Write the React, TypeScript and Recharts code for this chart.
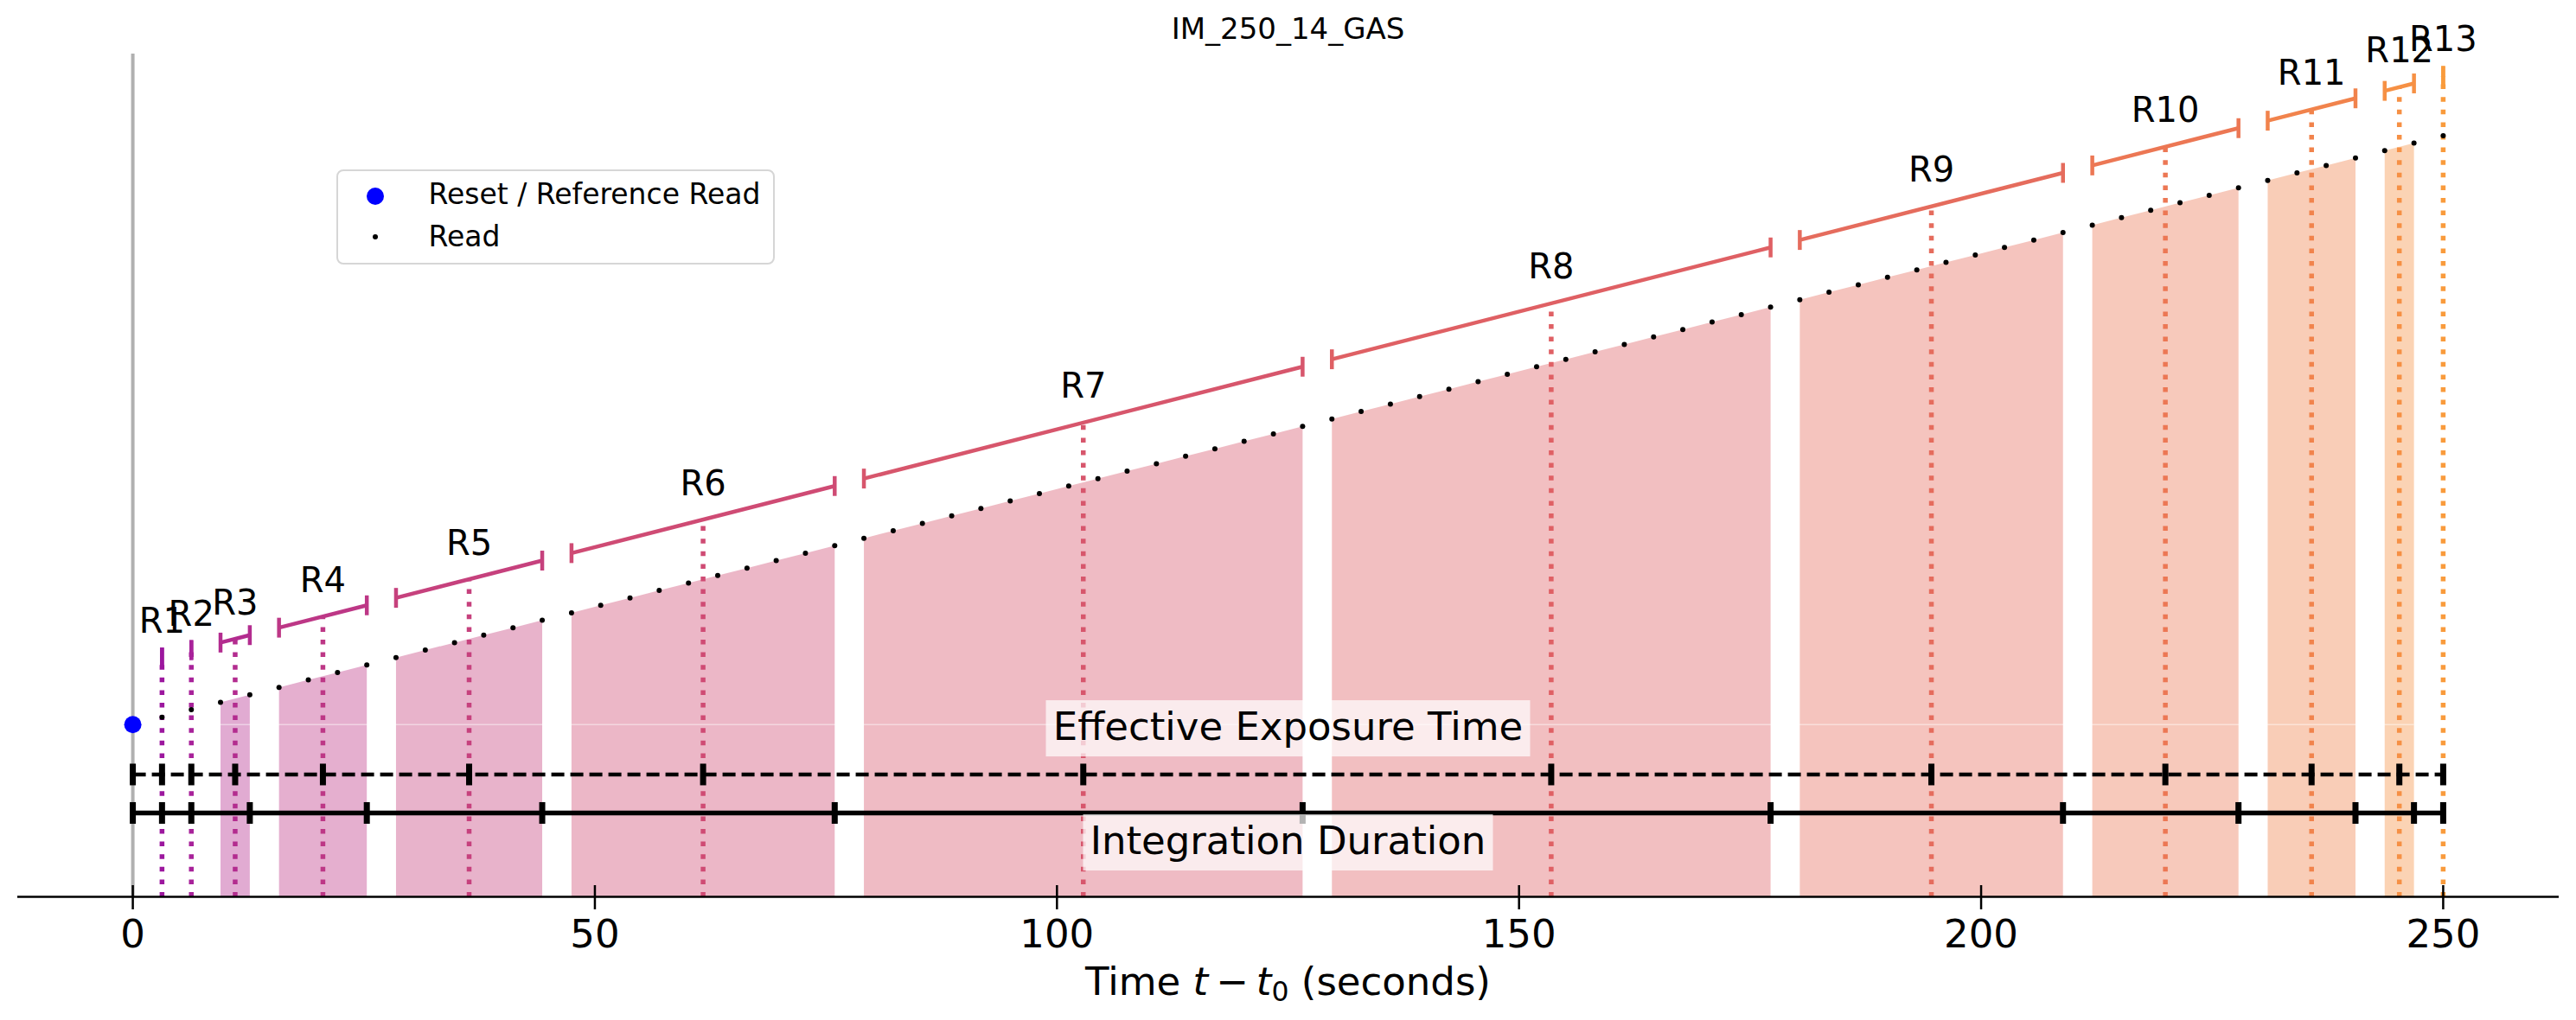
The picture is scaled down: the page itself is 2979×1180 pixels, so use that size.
import React from 'react';
import { ComposedChart, XAxis, YAxis, Area, Scatter, ReferenceLine, ReferenceDot, Legend } from 'recharts';

const chartTitle = 'IM_250_14_GAS';

// time of every read after the reset (seconds)
const readTimes = [
    3.16, 6.33, 9.49, 12.66, 15.82, 18.99, 22.15, 25.32, 28.48, 31.65,
    34.81, 37.97, 41.14, 44.3, 47.47, 50.63, 53.8, 56.96, 60.13, 63.29,
    66.46, 69.62, 72.78, 75.95, 79.11, 82.28, 85.44, 88.61, 91.77, 94.94,
    98.1, 101.27, 104.43, 107.59, 110.76, 113.92, 117.09, 120.25, 123.42, 126.58,
    129.75, 132.91, 136.08, 139.24, 142.41, 145.57, 148.73, 151.9, 155.06, 158.23,
    161.39, 164.56, 167.72, 170.89, 174.05, 177.22, 180.38, 183.54, 186.71, 189.87,
    193.04, 196.2, 199.37, 202.53, 205.7, 208.86, 212.03, 215.19, 218.35, 221.52,
    224.68, 227.85, 231.01, 234.18, 237.34, 240.51, 243.67, 246.84, 250.0,
];

// accumulated signal at each read (arbitrary units)
const readCounts = [
    24.1, 25.1, 26.1, 27.1, 28.1, 29.1, 30.1, 31.1, 32.1, 33.1,
    34.1, 35.1, 36.1, 37.1, 38.1, 39.1, 40.1, 41.1, 42.1, 43.1,
    44.1, 45.1, 46.1, 47.1, 48.1, 49.1, 50.1, 51.1, 52.1, 53.1,
    54.1, 55.1, 56.1, 57.1, 58.1, 59.1, 60.1, 61.1, 62.1, 63.1,
    64.1, 65.1, 66.1, 67.1, 68.1, 69.1, 70.1, 71.1, 72.1, 73.1,
    74.1, 75.1, 76.1, 77.1, 78.1, 79.1, 80.1, 81.1, 82.1, 83.1,
    84.1, 85.1, 86.1, 87.1, 88.1, 89.1, 90.1, 91.1, 92.1, 93.1,
    94.1, 95.1, 96.1, 97.1, 98.1, 99.1, 100.1, 101.1, 102.1,
];

const resetTime = 0;
const resetCount = 23.1;

// number of reads averaged into each resultant
const groupSizes = [1, 1, 2, 4, 6, 10, 16, 16, 10, 6, 4, 2, 1];
const groupLabels = ['R1', 'R2', 'R3', 'R4', 'R5', 'R6', 'R7', 'R8', 'R9', 'R10', 'R11', 'R12', 'R13'];

const xTicks = [0, 50, 100, 150, 200, 250];

// plasma colours, one per resultant
const groupColors = [
    '#9c179e', '#a8229a', '#b32c8f', '#bd3786', '#c6417d', '#cf4b74', '#d7566c',
    '#df6064', '#e56c5d', '#ec7754', '#f1834c', '#f69044', '#f99b3c',
];

const FONT = 'DejaVu Sans';
const bracketLift = 8;
const capHalf = 1.33;
const labelLift = 3.3;
const effY = 16.41;
const intY = 11.25;

const groups = groupSizes.map((n, i) => {
    const start = groupSizes.slice(0, i).reduce((a, b) => a + b, 0);
    const times = readTimes.slice(start, start + n);
    const counts = readCounts.slice(start, start + n);
    const meanT = times.reduce((a, b) => a + b, 0) / n;
    const meanC = counts.reduce((a, b) => a + b, 0) / n;
    return {
        label: groupLabels[i],
        color: groupColors[i],
        start,
        n,
        first: times[0],
        last: times[n - 1],
        firstC: counts[0],
        lastC: counts[n - 1],
        meanT,
        meanC,
    };
});

const areaRows = readTimes.map((t, k) => {
    const row: Record<string, number | null> = { t };
    groups.forEach((g, i) => {
        row[`g${i}`] = k >= g.start && k < g.start + g.n ? readCounts[k] : null;
    });
    return row;
});

const readRows = readTimes.map((t, k) => ({ t, y: readCounts[k] }));
const resetRows = [{ t: resetTime, y: resetCount }];

const TimeTick = (props: any) => {
    const { x, y, payload } = props;
    return (
        <g>
            <line x1={x} x2={x} y1={y - 13.5} y2={y + 14.5} stroke="#000" strokeWidth={2.5} />
            <text x={x} y={y + 58.5} textAnchor="middle" fontSize={45} fontFamily={FONT} fill="#000">
                {payload.value}
            </text>
        </g>
    );
};

const AxisTitle = (props: any) => {
    const { x, y, width } = props.viewBox;
    return (
        <text x={x + width / 2} y={y + 113.5} textAnchor="middle" fontSize={45} fontFamily={FONT} fill="#000">
            Time{' '}
            <tspan fontStyle="italic">t</tspan>
            {'\u2009\u2212\u2009'}
            <tspan fontStyle="italic">t</tspan>
            <tspan fontSize={31.5} dy={7}>0</tspan>
            <tspan dy={-7}>{' (seconds)'}</tspan>
        </text>
    );
};

const LegendBox = () => (
    <svg width={507} height={110}>
        <rect x={1} y={1} width={505} height={108} rx={7} fill="#fff" fillOpacity={0.8} stroke="#d6d6d6" strokeWidth={2} />
        <circle cx={45} cy={31} r={10} fill="#0000ff" />
        <text x={106.5} y={40} fontSize={33} fontFamily={FONT} fill="#000">Reset / Reference Read</text>
        <circle cx={45} cy={78} r={3} fill="#000" />
        <text x={106.5} y={89} fontSize={33} fontFamily={FONT} fill="#000">Read</text>
    </svg>
);

const tickMark = (h: number) => (p: any) => (
    <rect x={p.cx - 3.5} y={p.cy - h / 2} width={7} height={h} fill="#000" />
);

const boxLabel = (text: string, w: number) => (p: any) => (
    <g>
        <rect x={p.cx - w / 2} y={p.cy - 32.5} width={w} height={65} fill="#fff" fillOpacity={0.7} />
        <text x={p.cx} y={p.cy + 13.5} textAnchor="middle" fontSize={45} fontFamily={FONT} fill="#000">
            {text}
        </text>
    </g>
);

const RampChart: React.FC = () => {
    const filled = groups.filter((g) => g.n > 1);
    return (
        <div style={{ position: 'absolute', left: 0, top: 0, width: 2979, height: 1180, background: '#fff' }}>
            <svg width={2979} height={80} style={{ position: 'absolute', left: 0, top: 0 }}>
                <text x={1489.5} y={45} textAnchor="middle" fontSize={34} fontFamily={FONT} fill="#000">
                    {chartTitle}
                </text>
            </svg>
            <ComposedChart width={2979} height={1180} data={areaRows} margin={{ top: 62, right: 20, bottom: 0, left: 20 }}>
                <XAxis
                    dataKey="t"
                    type="number"
                    domain={[-12.5, 262.5]}
                    ticks={xTicks}
                    interval={0}
                    height={142.5}
                    tickSize={0}
                    tickMargin={0}
                    tickLine={false}
                    tick={<TimeTick />}
                    axisLine={{ stroke: '#000', strokeWidth: 2.7 }}
                    allowDataOverflow
                    label={{ content: (p: any) => <AxisTitle {...p} /> }}
                />
                <YAxis type="number" domain={[0, 113.1]} hide width={0} allowDataOverflow />

                <ReferenceLine x={0} stroke="#b0b0b0" strokeWidth={4} />

                {groups.map((g, i) =>
                    g.n > 1 ? (
                        <Area
                            key={`area-${i}`}
                            dataKey={`g${i}`}
                            type="linear"
                            stroke="none"
                            fill={g.color}
                            fillOpacity={0.4}
                            baseValue={0}
                            dot={false}
                            activeDot={false}
                            legendType="none"
                            isAnimationActive={false}
                        />
                    ) : null
                )}

                <ReferenceLine
                    segment={[{ x: filled[0].first, y: resetCount }, { x: filled[filled.length - 1].last, y: resetCount }]}
                    stroke="#fff"
                    strokeOpacity={0.45}
                    strokeWidth={1.5}
                    ifOverflow="visible"
                />

                {groups.map((g, i) => (
                    <ReferenceLine
                        key={`dot-${i}`}
                        segment={[{ x: g.meanT, y: 0 }, { x: g.meanT, y: g.meanC + bracketLift }]}
                        stroke={g.color}
                        strokeWidth={5.5}
                        strokeDasharray="5.5 9.1"
                        ifOverflow="visible"
                    />
                ))}

                <Scatter
                    name="Read"
                    data={readRows}
                    dataKey="y"
                    fill="#000"
                    shape={(p: any) => <circle cx={p.cx} cy={p.cy} r={3} fill="#000" />}
                    isAnimationActive={false}
                />
                <Scatter
                    name="Reset / Reference Read"
                    data={resetRows}
                    dataKey="y"
                    fill="#0000ff"
                    shape={(p: any) => <circle cx={p.cx} cy={p.cy} r={10} fill="#0000ff" />}
                    isAnimationActive={false}
                />

                {groups.map((g, i) => (
                    <ReferenceLine
                        key={`br-${i}`}
                        segment={[{ x: g.first, y: g.firstC + bracketLift }, { x: g.last, y: g.lastC + bracketLift }]}
                        stroke={g.color}
                        strokeWidth={4.5}
                        ifOverflow="visible"
                    />
                ))}
                {groups.map((g, i) => (
                    <ReferenceLine
                        key={`capl-${i}`}
                        segment={[
                            { x: g.first, y: g.firstC + bracketLift - capHalf },
                            { x: g.first, y: g.firstC + bracketLift + capHalf },
                        ]}
                        stroke={g.color}
                        strokeWidth={4.5}
                        ifOverflow="visible"
                    />
                ))}
                {groups.map((g, i) => (
                    <ReferenceLine
                        key={`capr-${i}`}
                        segment={[
                            { x: g.last, y: g.lastC + bracketLift - capHalf },
                            { x: g.last, y: g.lastC + bracketLift + capHalf },
                        ]}
                        stroke={g.color}
                        strokeWidth={4.5}
                        ifOverflow="visible"
                    />
                ))}

                <ReferenceLine
                    segment={[{ x: resetTime, y: effY }, { x: readTimes[readTimes.length - 1], y: effY }]}
                    stroke="#000"
                    strokeWidth={4.5}
                    strokeDasharray="15 7"
                    ifOverflow="visible"
                />
                <ReferenceLine
                    segment={[{ x: resetTime, y: intY }, { x: readTimes[readTimes.length - 1], y: intY }]}
                    stroke="#000"
                    strokeWidth={5.5}
                    ifOverflow="visible"
                />
                {[resetTime, ...groups.map((g) => g.meanT)].map((t, i) => (
                    <ReferenceDot key={`em-${i}`} x={t} y={effY} r={1} ifOverflow="visible" shape={tickMark(25)} />
                ))}
                {[resetTime, ...groups.map((g) => g.last)].map((t, i) => (
                    <ReferenceDot key={`im-${i}`} x={t} y={intY} r={1} ifOverflow="visible" shape={tickMark(25)} />
                ))}

                {groups.map((g, i) => (
                    <ReferenceDot
                        key={`lbl-${i}`}
                        x={g.meanT}
                        y={g.meanC + bracketLift + labelLift}
                        r={1}
                        ifOverflow="visible"
                        shape={(p: any) => (
                            <text x={p.cx} y={p.cy} textAnchor="middle" fontSize={40} fontFamily={FONT} fill="#000">
                                {g.label}
                            </text>
                        )}
                    />
                ))}

                <ReferenceDot x={125} y={22.6} r={1} ifOverflow="visible" shape={boxLabel('Effective Exposure Time', 560)} />
                <ReferenceDot x={125} y={7.3} r={1} ifOverflow="visible" shape={boxLabel('Integration Duration', 474)} />

                <Legend
                    layout="vertical"
                    align="center"
                    verticalAlign="middle"
                    wrapperStyle={{ left: 389, top: 196, width: 507, height: 110 }}
                    content={() => <LegendBox />}
                />
            </ComposedChart>
        </div>
    );
};

export default function App() {
    return <RampChart />;
}
